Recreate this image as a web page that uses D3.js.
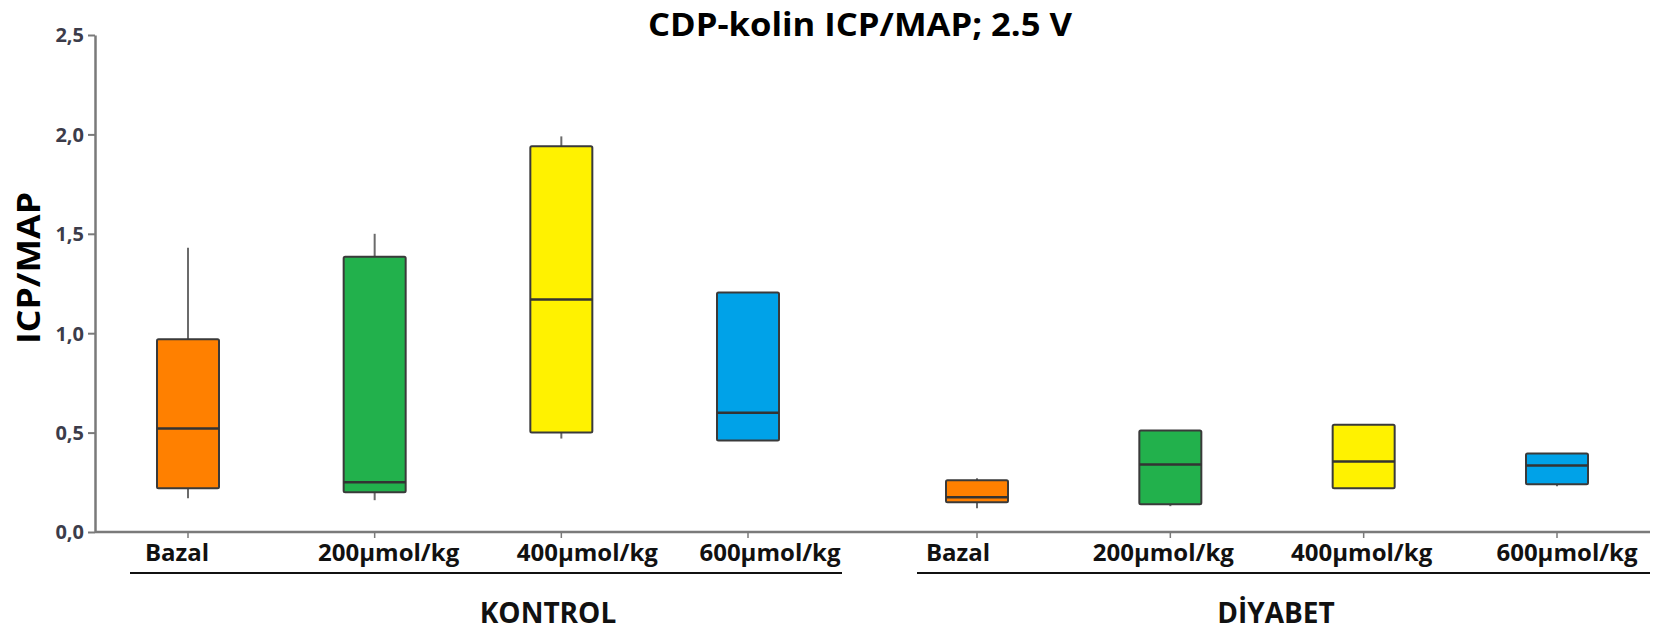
<!DOCTYPE html>
<html>
<head>
<meta charset="utf-8">
<script src="https://cdn.jsdelivr.net/npm/d3@7"></script>
<style>
  body { margin: 0; background: #fff; }
  svg { display: block; font-family: 'Open Sans', 'Noto Sans', sans-serif; }
</style>
</head>
<body>
<svg id="chart" width="1666" height="635"></svg>
<script>
'use strict';

// groups and doses
var groups = ['KONTROL', 'DİYABET'];
var doses = ['Bazal', '200µmol/kg', '400µmol/kg', '600µmol/kg'];

// box statistics, kontrol first then diyabet (same dose order)
var minVals    = [0.17, 0.16, 0.47, 0.46,   0.12, 0.13, 0.22, 0.23];
var q1Vals     = [0.22, 0.20, 0.50, 0.46,   0.15, 0.14, 0.22, 0.24];
var medianVals = [0.52, 0.25, 1.17, 0.60,   0.175, 0.34, 0.355, 0.335];
var q3Vals     = [0.97, 1.385, 1.94, 1.205, 0.26, 0.51, 0.54, 0.395];
var maxVals    = [1.43, 1.50, 1.99, 1.205,  0.27, 0.51, 0.54, 0.395];

var yTicks = [0, 0.5, 1.0, 1.5, 2.0, 2.5];

var COLORS = ['#ff8000', '#22b14c', '#fff200', '#00a2e8'];
var BOX_W = 62;
// the dose labels are not centred on their ticks in the original
var LABEL_SHIFT = [[-11, 14, 26, 22], [-19, -7, -2, 10]];

var svg = d3.select('#chart');

var y = d3.scaleLinear().domain([0, 2.5]).range([532, 35]);

var xGroup = {};
xGroup[groups[0]] = d3.scalePoint().domain(doses).range([188, 748]);
xGroup[groups[1]] = d3.scalePoint().domain(doses).range([977, 1557]);

var rows = [];
groups.forEach(function(g, gi) {
    doses.forEach(function(d, di) {
        var i = gi * doses.length + di;
        rows.push({
            group: g, dose: d, gi: gi, di: di,
            min: minVals[i], q1: q1Vals[i], med: medianVals[i], q3: q3Vals[i], max: maxVals[i],
            x: xGroup[g](d)
        });
    });
});

// title
svg.append('text')
    .attr('x', 860)
    .attr('y', 36)
    .attr('text-anchor', 'middle')
    .style('font-size', '32px')
    .style('font-weight', 'bold')
    .attr('textLength', 424)
    .attr('lengthAdjust', 'spacingAndGlyphs')
    .text('CDP-kolin ICP/MAP; 2.5 V');

// y axis
var yAxis = svg.append('g')
    .attr('transform', 'translate(95,0)')
    .call(d3.axisLeft(y)
        .tickValues(yTicks)
        .tickSize(7)
        .tickSizeOuter(0)
        .tickFormat(function(v) { return d3.format('.1f')(v).replace('.', ','); }));
yAxis.select('.domain').attr('stroke', '#7a7a7a').attr('stroke-width', 2.5);
yAxis.selectAll('.tick line').attr('stroke', '#7a7a7a').attr('stroke-width', 2);
yAxis.selectAll('.tick text')
    .attr('x', -11)
    .attr('dy', '0.34em')
    .style('font-size', '20px')
    .style('font-weight', 'bold')
    .style('font-family', "'Open Sans', sans-serif")
    .attr('fill', '#3c3c4a');

svg.append('text')
    .attr('transform', 'translate(40,268) rotate(-90)')
    .attr('text-anchor', 'middle')
    .style('font-size', '33px')
    .style('font-weight', 'bold')
    .attr('textLength', 152)
    .attr('lengthAdjust', 'spacingAndGlyphs')
    .text('ICP/MAP');

// x baseline
svg.append('line')
    .attr('x1', 95).attr('x2', 1650)
    .attr('y1', y(0)).attr('y2', y(0))
    .attr('stroke', '#7a7a7a').attr('stroke-width', 2.5);

// x ticks
svg.selectAll('line.xtick')
    .data(rows)
    .enter().append('line')
    .attr('class', 'xtick')
    .attr('x1', function(d) { return d.x; })
    .attr('x2', function(d) { return d.x; })
    .attr('y1', y(0))
    .attr('y2', y(0) + 6)
    .attr('stroke', '#7a7a7a')
    .attr('stroke-width', 1.5);

// dose labels
svg.selectAll('text.dose')
    .data(rows)
    .enter().append('text')
    .attr('class', 'dose')
    .attr('x', function(d) { return d.x + LABEL_SHIFT[d.gi][d.di]; })
    .attr('y', 561)
    .attr('text-anchor', 'middle')
    .style('font-size', '24px')
    .style('font-weight', 'bold')
    .attr('fill', '#111')
    .text(function(d) { return d.dose; });

// group underline + group name
var groupSpan = [[130, 842], [917, 1650]];
groups.forEach(function(g, gi) {
    svg.append('line')
        .attr('x1', groupSpan[gi][0]).attr('x2', groupSpan[gi][1])
        .attr('y1', 573).attr('y2', 573)
        .attr('stroke', '#111').attr('stroke-width', 2);
    svg.append('text')
        .attr('x', gi === 0 ? 548 : 1276)
        .attr('y', 623)
        .attr('text-anchor', 'middle')
        .style('font-size', '28px')
        .style('font-weight', 'bold')
        .attr('fill', '#111')
        .text(g);
});

// boxes
var box = svg.append('g').selectAll('g')
    .data(rows)
    .enter().append('g');

box.append('line')
    .attr('x1', function(d) { return d.x; })
    .attr('x2', function(d) { return d.x; })
    .attr('y1', function(d) { return y(d.max); })
    .attr('y2', function(d) { return y(d.q3); })
    .attr('stroke', '#6b6b6b').attr('stroke-width', 2);

box.append('line')
    .attr('x1', function(d) { return d.x; })
    .attr('x2', function(d) { return d.x; })
    .attr('y1', function(d) { return y(d.q1); })
    .attr('y2', function(d) { return y(d.min); })
    .attr('stroke', '#6b6b6b').attr('stroke-width', 2);

box.append('rect')
    .attr('x', function(d) { return d.x - BOX_W / 2; })
    .attr('y', function(d) { return y(d.q3); })
    .attr('width', BOX_W)
    .attr('height', function(d) { return y(d.q1) - y(d.q3); })
    .attr('rx', 1.5)
    .attr('fill', function(d) { return COLORS[d.di]; })
    .attr('stroke', '#3a3a3a')
    .attr('stroke-width', 2);

box.append('line')
    .attr('x1', function(d) { return d.x - BOX_W / 2; })
    .attr('x2', function(d) { return d.x + BOX_W / 2; })
    .attr('y1', function(d) { return y(d.med); })
    .attr('y2', function(d) { return y(d.med); })
    .attr('stroke', '#333')
    .attr('stroke-width', 2.5);
</script>
</body>
</html>
